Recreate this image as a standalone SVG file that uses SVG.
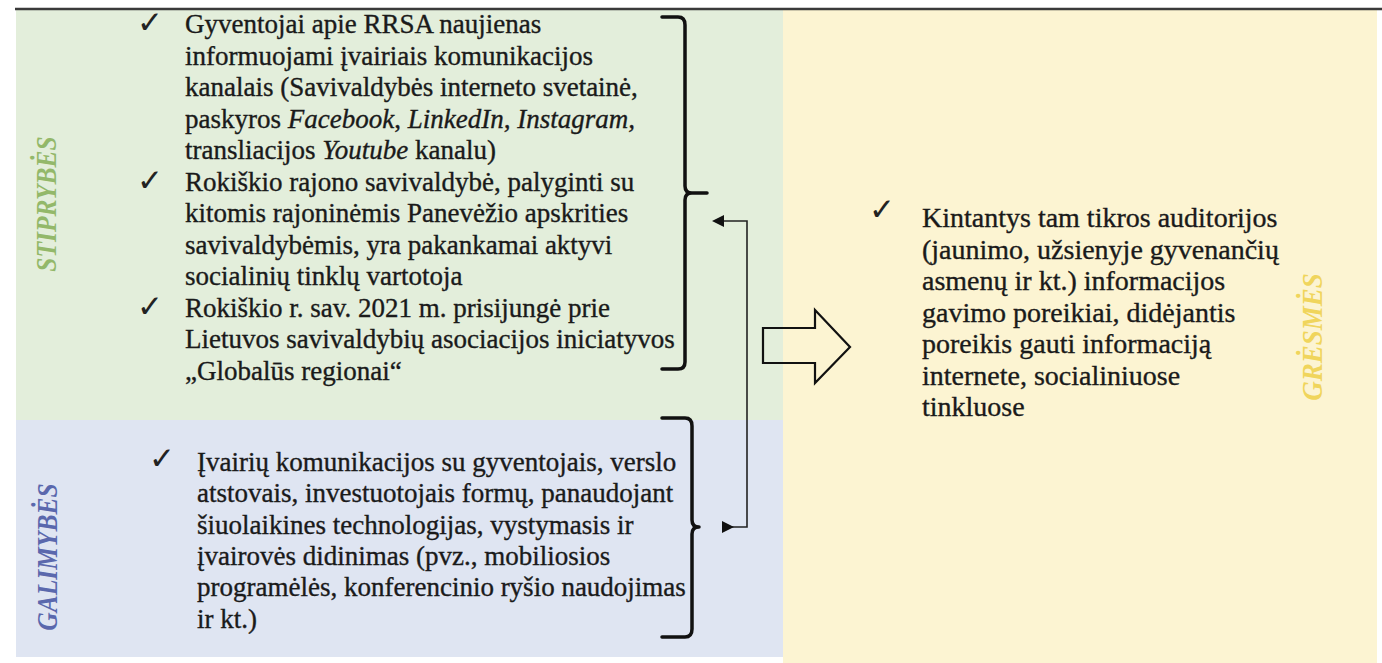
<svg xmlns="http://www.w3.org/2000/svg" width="1382" height="663" viewBox="0 0 1382 663">
<style>
.t{font-family:"Liberation Serif","Times New Roman",serif;font-size:27px;fill:#1a1a1a;stroke:#1a1a1a;stroke-width:0.35}
.r{font-size:28px}
.i{font-style:italic}
.ck{font-family:"DejaVu Sans",sans-serif;font-size:31px;fill:#222}
.lbl{font-family:"Liberation Serif","Times New Roman",serif;font-size:30px;font-weight:bold;font-style:italic}
.br{fill:none;stroke:#111;stroke-width:3.5;stroke-linecap:round;stroke-linejoin:round}
.cn{fill:none;stroke:#222;stroke-width:1.6}
</style>
<defs>
<marker id="ah2" viewBox="0 0 10 10" refX="0" refY="5" markerWidth="16" markerHeight="12" markerUnits="userSpaceOnUse" orient="auto">
<path d="M0,0 L10,5 L0,10 z" fill="#111"/>
</marker>
</defs>
<rect x="0" y="0" width="1382" height="663" fill="#ffffff"/>
<g id="strengths">
<rect x="16" y="10" width="767" height="410" fill="#e3eedb"/>
<text class="lbl" fill="#93b86a" transform="translate(56,204) rotate(-90) scale(0.85,1)" text-anchor="middle">STIPRYBĖS</text>
<text class="ck" x="137" y="33">✓</text>
<text class="t" x="185" y="33">Gyventojai apie RRSA naujienas</text>
<text class="t" x="185" y="64.5">informuojami įvairiais komunikacijos</text>
<text class="t" x="185" y="96">kanalais (Savivaldybės interneto svetainė,</text>
<text class="t" x="185" y="127.5">paskyros <tspan class="i">Facebook</tspan>, <tspan class="i">LinkedIn, Instagram,</tspan></text>
<text class="t" x="185" y="159">transliacijos <tspan class="i">Youtube</tspan> kanalu)</text>
<text class="ck" x="137" y="190.5">✓</text>
<text class="t" x="185" y="190.5">Rokiškio rajono savivaldybė, palyginti su</text>
<text class="t" x="185" y="222">kitomis rajoninėmis Panevėžio apskrities</text>
<text class="t" x="185" y="253.5">savivaldybėmis, yra pakankamai aktyvi</text>
<text class="t" x="185" y="285">socialinių tinklų vartotoja</text>
<text class="ck" x="137" y="316.5">✓</text>
<text class="t" x="185" y="316.5">Rokiškio r. sav. 2021 m. prisijungė prie</text>
<text class="t" x="185" y="348">Lietuvos savivaldybių asociacijos iniciatyvos</text>
<text class="t" x="185" y="379.5">„Globalūs regionai“</text>
<path class="br" d="M662,17 H678 Q685,17 685,25 V186 Q685,193 692,193 H707 M692,193 Q685,193 685,200 V362 Q685,369 678,369 H662"/>
</g>
<g id="opportunities">
<rect x="16" y="420" width="767" height="237" fill="#dfe5f2"/>
<text class="lbl" fill="#5a68ad" transform="translate(57,557) rotate(-90) scale(0.85,1)" text-anchor="middle">GALIMYBĖS</text>
<text class="ck" x="149" y="469">✓</text>
<text class="t" x="197" y="471">Įvairių komunikacijos su gyventojais, verslo</text>
<text class="t" x="197" y="502.3">atstovais, investuotojais formų, panaudojant</text>
<text class="t" x="197" y="533.6">šiuolaikines technologijas, vystymasis ir</text>
<text class="t" x="197" y="564.9">įvairovės didinimas (pvz., mobiliosios</text>
<text class="t" x="197" y="596.2">programėlės, konferencinio ryšio naudojimas</text>
<text class="t" x="197" y="627.5">ir kt.)</text>
<path class="br" d="M662,418 H685 Q692,418 692,426 V520 Q692,527 699,527 M699,527 Q692,527 692,534 V629 Q692,637 685,637 H662"/>
</g>
<g id="threats">
<rect x="783" y="10" width="594" height="653" fill="#fcf4d2"/>
<text class="lbl" fill="#f0d55c" transform="translate(1322,337) rotate(-90) scale(0.9,1)" text-anchor="middle">GRĖSMĖS</text>
<text class="ck" x="869" y="220">✓</text>
<text class="t r" x="922" y="227">Kintantys tam tikros auditorijos</text>
<text class="t r" x="922" y="258.5">(jaunimo, užsienyje gyvenančių</text>
<text class="t r" x="922" y="290">asmenų ir kt.) informacijos</text>
<text class="t r" x="922" y="321.5">gavimo poreikiai, didėjantis</text>
<text class="t r" x="922" y="353">poreikis gauti informaciją</text>
<text class="t r" x="922" y="384.5">internete, socialiniuose</text>
<text class="t r" x="922" y="416">tinkluose</text>
</g>
<line x1="15" y1="9" x2="1382" y2="9" stroke="#3a3a3a" stroke-width="2.5"/>
<g id="connectors">
<polyline class="cn" points="722,527 747,527 747,221 724,221" marker-start="url(#ah2)" marker-end="url(#ah2)"/>
<polygon points="763,328 815,328 815,310 850,347 815,383 815,363 763,363" fill="none" stroke="#111" stroke-width="2.2" stroke-linejoin="miter"/>
</g>
</svg>
